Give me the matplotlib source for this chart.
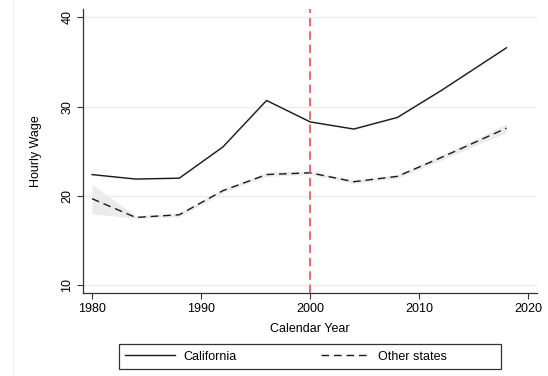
import matplotlib
matplotlib.use("Agg")
import matplotlib.pyplot as plt
from matplotlib.lines import Line2D
from matplotlib.patches import Rectangle
import numpy as np

plt.rcParams['font.family'] = ['Liberation Sans', 'DejaVu Sans']

years = [1980, 1984, 1988, 1992, 1994, 1996, 2000, 2004, 2008, 2012, 2016, 2018]
california = [22.4, 21.9, 22.0, 25.5, 28.1, 30.7, 28.3, 27.5, 28.8, 31.8, 35.0, 36.6]
other_states = [19.7, 17.6, 17.9, 20.6, 21.5, 22.4, 22.6, 21.6, 22.2, 24.3, 26.5, 27.6]
other_lo = [18.0, 17.5, 17.7, 20.4, 21.3, 22.2, 22.4, 21.4, 22.0, 24.0, 26.1, 27.1]
other_hi = [21.3, 17.8, 18.1, 20.8, 21.7, 22.7, 22.8, 21.8, 22.4, 24.6, 26.9, 28.1]
ca_lo = [22.3, 21.8, 21.9, 25.4, 28.0, 30.6, 28.2, 27.4, 28.7, 31.7, 34.9, 36.5]
ca_hi = [22.5, 22.0, 22.1, 25.6, 28.2, 30.8, 28.4, 27.6, 28.9, 31.9, 35.1, 36.7]
xticks = [1980, 1990, 2000, 2010, 2020]
yticks = [10, 20, 30, 40]
policy_year = 2000

W, H = 548, 376
fig = plt.figure(figsize=(W/100, H/100), dpi=100)
ax = fig.add_axes([83/W, 1-293/H, (537-83)/W, (293-9)/H])

ax.set_xlim(1979.17, 2020.8)
ax.set_ylim(9.14, 40.94)

for t in yticks:
    ax.axhline(t, color='#ececec', lw=1.0, zorder=0)

ax.fill_between(years, other_lo, other_hi, color='#ebebeb', lw=0, zorder=1)
ax.fill_between(years, ca_lo, ca_hi, color='#ebebeb', lw=0, zorder=1)

l1, = ax.plot(years, california, color='#1a1a1a', lw=1.0, zorder=3, label='California')
l2, = ax.plot(years, other_states, color='#1a1a1a', lw=1.0, ls=(0, (5.5, 3.5)), zorder=3, label='Other states')
ax.axvline(policy_year, color='#e8505b', lw=1.2, ls=(0, (5, 3)), zorder=4)

ax.spines['top'].set_visible(False)
ax.spines['right'].set_visible(False)
for s in ['left', 'bottom']:
    ax.spines[s].set_color('#333333')
    ax.spines[s].set_linewidth(0.9)

ax.set_xticks(xticks)
ax.set_yticks(yticks)
ax.tick_params(axis='both', direction='out', length=4, width=0.8, color='#333333',
               labelsize=9, pad=3)
for lab in ax.get_yticklabels():
    lab.set_rotation(90)
    lab.set_va('center')

ax.set_xlabel('Calendar Year', fontsize=9, labelpad=6)
ax.set_ylabel('Hourly Wage', fontsize=9, labelpad=14)

# legend frame (drawn separately to match the wide box)
fig.add_artist(Rectangle((119/W, 1-369/H), (501-119)/W, 25/H, transform=fig.transFigure,
                         facecolor='white', edgecolor='#333333', lw=0.9))
leg = fig.legend(handles=[l1, l2], loc='center left', ncol=2,
                 bbox_to_anchor=(125/W, 1-356.5/H), frameon=False, fontsize=9,
                 handlelength=4.0, handletextpad=0.64, columnspacing=6.74,
                 borderpad=0, borderaxespad=0)

fig.add_artist(Line2D([13/W, 13/W], [1/H, 1], color='#f0f0f0', lw=0.8,
                      transform=fig.transFigure))

fig.savefig('out.png', dpi=100)
